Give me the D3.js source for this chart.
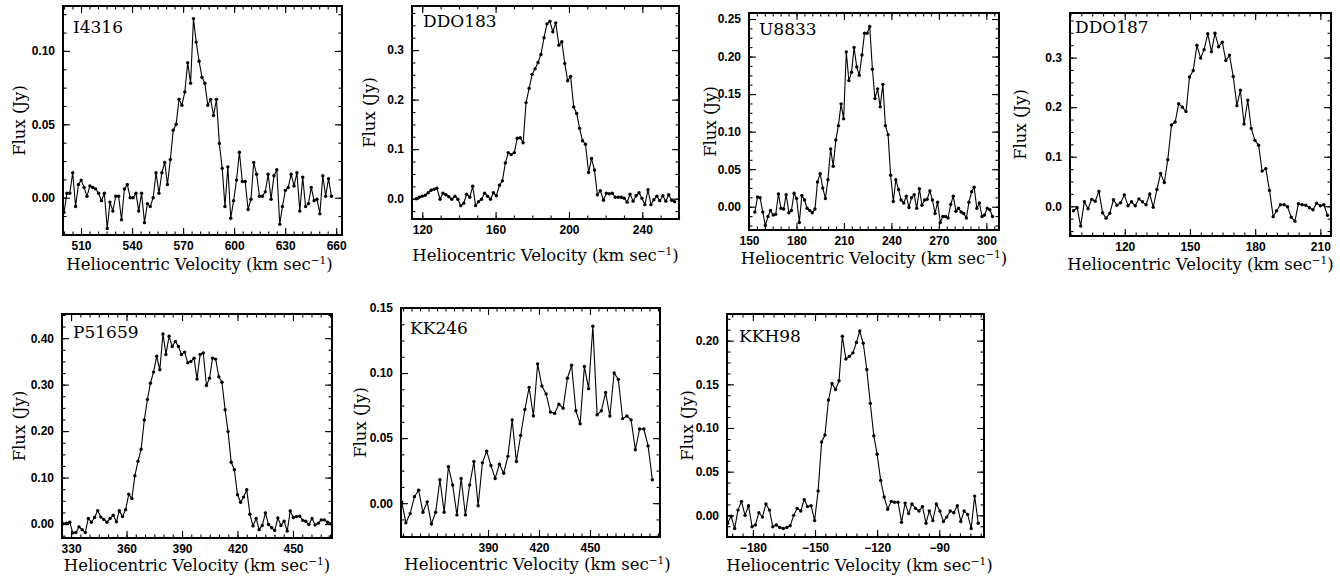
<!DOCTYPE html>
<html lang="en">
<head>
<meta charset="UTF-8">
<title>HI spectra</title>
<style>
body { margin: 0; background: #fff; }
svg { display: block; }
.tick text { font-family: "Liberation Sans", Arial, sans-serif; font-size: 12px; font-weight: bold; fill: #000; }
.tick line { stroke: #000; stroke-width: 1.1px; }
.lbl { font-family: "DejaVu Serif", serif; fill: #000; }
.frame { fill: none; stroke: #000; stroke-width: 2px; }
.spec { fill: none; stroke: #000; stroke-width: 1.1px; }
</style>
</head>
<body>
<svg id="fig" width="1340" height="578"></svg>
<script src="https://d3js.org/d3.v7.min.js"></script>
<script>
// ---------- data (velocity in km/s, flux in Jy) ----------
const i4316Vel = [500.0, 501.7, 503.4, 505.1, 506.8, 508.5, 510.1, 511.8, 513.5, 515.2,
  516.9, 518.6, 520.3, 522.0, 523.7, 525.4, 527.0, 528.7, 530.4, 532.1,
  533.8, 535.5, 537.2, 538.9, 540.6, 542.3, 543.9, 545.6, 547.3, 549.0,
  550.7, 552.4, 554.1, 555.8, 557.5, 559.2, 560.8, 562.5, 564.2, 565.9,
  567.6, 569.3, 571.0, 572.7, 574.4, 576.1, 577.7, 579.4, 581.1, 582.8,
  584.5, 586.2, 587.9, 589.6, 591.3, 593.0, 594.6, 596.3, 598.0, 599.7,
  601.4, 603.1, 604.8, 606.5, 608.2, 609.9, 611.5, 613.2, 614.9, 616.6,
  618.3, 620.0, 621.7, 623.4, 625.1, 626.8, 628.4, 630.1, 631.8, 633.5,
  635.2, 636.9, 638.6, 640.3, 642.0, 643.7, 645.3, 647.0, 648.7, 650.4,
  652.1, 653.8, 655.5, 657.2];
const i4316Flux = [-0.010, 0.003, 0.003, 0.017, -0.006, 0.009, 0.012, 0.007, 0.001, 0.008,
  0.007, 0.006, 0.003, -0.002, 0.003, -0.021, -0.003, -0.009, 0.001, 0.001,
  -0.015, 0.006, 0.009, 0.000, 0.000, 0.003, -0.009, 0.003, -0.017, -0.004,
  -0.006, 0.000, 0.017, 0.003, 0.017, 0.024, 0.009, 0.026, 0.046, 0.050,
  0.067, 0.063, 0.072, 0.092, 0.078, 0.122, 0.106, 0.093, 0.082, 0.078,
  0.063, 0.067, 0.056, 0.067, 0.037, 0.020, -0.006, 0.021, -0.014, -0.002,
  0.012, 0.031, 0.011, 0.011, -0.008, -0.001, 0.024, 0.016, 0.001, 0.001,
  0.004, 0.016, -0.001, 0.015, 0.019, -0.018, -0.006, 0.005, 0.007, 0.016,
  0.008, 0.017, -0.009, 0.014, -0.006, -0.004, 0.007, -0.002, -0.001, -0.011,
  0.015, 0.001, 0.013, 0.001];

const ddo183Vel = [116.7, 118.3, 119.9, 121.6, 123.2, 124.8, 126.4, 128.0, 129.7, 131.3,
  132.9, 134.5, 136.1, 137.8, 139.4, 141.0, 142.6, 144.2, 145.9, 147.5,
  149.1, 150.7, 152.3, 154.0, 155.6, 157.2, 158.8, 160.4, 162.1, 163.7,
  165.3, 166.9, 168.5, 170.2, 171.8, 173.4, 175.0, 176.6, 178.3, 179.9,
  181.5, 183.1, 184.7, 186.4, 188.0, 189.6, 191.2, 192.8, 194.5, 196.1,
  197.7, 199.3, 200.9, 202.6, 204.2, 205.8, 207.4, 209.0, 210.7, 212.3,
  213.9, 215.5, 217.1, 218.8, 220.4, 222.0, 223.6, 225.2, 226.9, 228.5,
  230.1, 231.7, 233.3, 235.0, 236.6, 238.2, 239.8, 241.4, 243.1, 244.7,
  246.3, 247.9, 249.5, 251.2, 252.8, 254.4, 256.0, 257.6];
const ddo183Flux = [0.000, 0.003, 0.005, 0.007, 0.012, 0.017, 0.019, 0.021, -0.001, 0.011,
  0.008, 0.004, -0.001, 0.005, -0.001, -0.014, -0.009, 0.009, 0.003, 0.025,
  -0.014, -0.006, -0.001, 0.011, 0.005, -0.001, 0.012, 0.006, 0.027, 0.036,
  0.072, 0.093, 0.089, 0.093, 0.122, 0.123, 0.113, 0.194, 0.223, 0.251,
  0.262, 0.275, 0.291, 0.325, 0.353, 0.358, 0.337, 0.355, 0.310, 0.317,
  0.273, 0.238, 0.247, 0.185, 0.172, 0.142, 0.117, 0.110, 0.053, 0.081,
  0.058, 0.008, 0.016, -0.003, 0.011, 0.010, 0.011, 0.003, 0.003, 0.003,
  0.001, -0.007, 0.009, -0.005, 0.006, 0.012, 0.001, -0.012, 0.018, -0.012,
  -0.002, 0.005, -0.004, 0.006, -0.005, 0.008, -0.003, -0.006];

const u8833Vel = [153.7, 155.4, 157.0, 158.7, 160.3, 162.0, 163.6, 165.3, 166.9, 168.6,
  170.2, 171.9, 173.5, 175.2, 176.8, 178.5, 180.1, 181.8, 183.4, 185.1,
  186.7, 188.4, 190.0, 191.7, 193.3, 195.0, 196.6, 198.3, 199.9, 201.6,
  203.2, 204.9, 206.5, 208.2, 209.8, 211.5, 213.1, 214.8, 216.4, 218.1,
  219.7, 221.4, 223.0, 224.7, 226.3, 228.0, 229.6, 231.3, 232.9, 234.6,
  236.2, 237.9, 239.5, 241.2, 242.8, 244.5, 246.1, 247.8, 249.4, 251.1,
  252.7, 254.4, 256.0, 257.7, 259.3, 261.0, 262.6, 264.3, 265.9, 267.6,
  269.2, 270.9, 272.5, 274.2, 275.8, 277.5, 279.1, 280.8, 282.4, 284.1,
  285.7, 287.4, 289.0, 290.7, 292.3, 294.0, 295.6, 297.3, 298.9, 300.6,
  302.2, 303.9];
const u8833Flux = [-0.007, 0.013, 0.012, -0.007, -0.025, -0.013, -0.005, -0.011, -0.010, 0.017,
  -0.002, -0.003, 0.016, -0.008, -0.005, 0.018, 0.011, -0.021, 0.015, 0.009,
  -0.002, -0.005, -0.008, -0.003, 0.033, 0.044, 0.025, 0.011, 0.036, 0.077,
  0.054, 0.089, 0.108, 0.137, 0.117, 0.206, 0.168, 0.179, 0.212, 0.186,
  0.175, 0.202, 0.231, 0.231, 0.240, 0.183, 0.144, 0.157, 0.133, 0.163,
  0.108, 0.096, 0.042, 0.007, 0.036, 0.023, 0.009, 0.005, 0.014, -0.001,
  0.012, 0.016, -0.002, 0.024, 0.002, 0.009, 0.010, 0.021, 0.009, -0.009,
  0.006, -0.021, -0.013, -0.013, -0.015, 0.003, 0.014, -0.006, -0.002, -0.007,
  -0.009, -0.015, 0.006, 0.020, 0.026, -0.002, 0.005, -0.013, -0.011, -0.002,
  -0.004, -0.013];

const ddo187Vel = [96.4, 98.1, 99.7, 101.4, 103.1, 104.8, 106.4, 108.1, 109.8, 111.4,
  113.1, 114.8, 116.4, 118.1, 119.8, 121.5, 123.1, 124.8, 126.5, 128.1,
  129.8, 131.5, 133.1, 134.8, 136.5, 138.2, 139.8, 141.5, 143.2, 144.8,
  146.5, 148.2, 149.8, 151.5, 153.2, 154.9, 156.5, 158.2, 159.9, 161.5,
  163.2, 164.9, 166.5, 168.2, 169.9, 171.6, 173.2, 174.9, 176.6, 178.2,
  179.9, 181.6, 183.2, 184.9, 186.6, 188.3, 189.9, 191.6, 193.3, 194.9,
  196.6, 198.3, 199.9, 201.6, 203.3, 205.0, 206.6, 208.3, 210.0, 211.6,
  213.3];
const ddo187Flux = [-0.009, -0.003, -0.040, 0.009, -0.005, 0.014, 0.010, 0.030, -0.013, -0.024,
  -0.014, 0.013, 0.002, 0.007, 0.023, 0.001, 0.009, 0.001, 0.015, 0.009,
  0.003, 0.025, -0.002, 0.034, 0.066, 0.048, 0.094, 0.164, 0.170, 0.207,
  0.200, 0.191, 0.261, 0.274, 0.325, 0.299, 0.316, 0.348, 0.312, 0.349,
  0.322, 0.331, 0.294, 0.305, 0.262, 0.203, 0.234, 0.166, 0.214, 0.157,
  0.133, 0.123, 0.071, 0.076, 0.032, -0.021, -0.009, 0.003, 0.003, -0.001,
  -0.022, -0.030, 0.005, 0.003, 0.002, -0.003, -0.007, 0.006, 0.001, 0.003,
  -0.018];

const p51659Vel = [325.9, 327.6, 329.3, 330.9, 332.6, 334.3, 336.0, 337.7, 339.3, 341.0,
  342.7, 344.4, 346.1, 347.7, 349.4, 351.1, 352.8, 354.5, 356.1, 357.8,
  359.5, 361.2, 362.9, 364.5, 366.2, 367.9, 369.6, 371.3, 372.9, 374.6,
  376.3, 378.0, 379.7, 381.3, 383.0, 384.7, 386.4, 388.1, 389.7, 391.4,
  393.1, 394.8, 396.5, 398.1, 399.8, 401.5, 403.2, 404.9, 406.5, 408.2,
  409.9, 411.6, 413.3, 414.9, 416.6, 418.3, 420.0, 421.7, 423.3, 425.0,
  426.7, 428.4, 430.1, 431.7, 433.4, 435.1, 436.8, 438.5, 440.1, 441.8,
  443.5, 445.2, 446.9, 448.5, 450.2, 451.9, 453.6, 455.3, 456.9, 458.6,
  460.3, 462.0, 463.7, 465.3, 467.0, 468.7, 470.4];
const p51659Flux = [0.001, 0.002, 0.004, -0.019, -0.018, -0.006, -0.012, -0.018, 0.012, 0.004,
  0.014, 0.029, 0.015, 0.010, 0.004, 0.012, 0.019, 0.005, 0.029, 0.016,
  0.031, 0.064, 0.055, 0.104, 0.135, 0.161, 0.224, 0.268, 0.303, 0.327,
  0.361, 0.332, 0.409, 0.365, 0.404, 0.382, 0.393, 0.382, 0.365, 0.370,
  0.347, 0.350, 0.357, 0.312, 0.365, 0.368, 0.298, 0.314, 0.357, 0.355,
  0.317, 0.305, 0.246, 0.199, 0.133, 0.117, 0.063, 0.047, 0.058, 0.074,
  0.021, -0.004, 0.012, -0.012, -0.003, 0.024, -0.001, -0.008, -0.014, 0.013,
  -0.003, 0.006, -0.015, 0.028, 0.014, 0.016, 0.017, 0.008, 0.006, -0.001,
  0.012, -0.002, 0.002, 0.009, 0.009, 0.004, 0.001];

const kk246Vel = [339.2, 341.7, 344.2, 346.7, 349.2, 351.7, 354.2, 356.7, 359.2, 361.7,
  364.2, 366.7, 369.2, 371.7, 374.2, 376.7, 379.2, 381.7, 384.2, 386.7,
  389.2, 391.7, 394.2, 396.7, 399.2, 401.7, 404.2, 406.7, 409.2, 411.7,
  414.2, 416.7, 419.2, 421.7, 424.2, 426.7, 429.2, 431.7, 434.2, 436.7,
  439.2, 441.7, 444.2, 446.7, 449.2, 451.7, 454.2, 456.7, 459.2, 461.7,
  464.2, 466.7, 469.2, 471.7, 474.2, 476.7, 479.2, 481.7, 484.2, 486.7];
const kk246Flux = [0.001, -0.015, -0.008, 0.005, 0.010, -0.007, 0.001, -0.016, -0.007, 0.018,
  -0.007, 0.028, 0.014, -0.009, 0.019, -0.009, 0.014, 0.032, -0.002, 0.031,
  0.040, 0.029, 0.019, 0.030, 0.023, 0.036, 0.064, 0.032, 0.052, 0.072,
  0.089, 0.067, 0.107, 0.090, 0.084, 0.070, 0.069, 0.076, 0.073, 0.096,
  0.106, 0.071, 0.061, 0.105, 0.088, 0.136, 0.068, 0.071, 0.085, 0.067,
  0.100, 0.095, 0.065, 0.067, 0.064, 0.041, 0.057, 0.057, 0.044, 0.018];

const kkh98Vel = [-192.2, -190.5, -188.8, -187.2, -185.5, -183.8, -182.1, -180.4, -178.8, -177.1,
  -175.4, -173.7, -172.0, -170.4, -168.7, -167.0, -165.3, -163.6, -162.0, -160.3,
  -158.6, -156.9, -155.2, -153.6, -151.9, -150.2, -148.5, -146.8, -145.2, -143.5,
  -141.8, -140.1, -138.4, -136.8, -135.1, -133.4, -131.7, -130.0, -128.4, -126.7,
  -125.0, -123.3, -121.6, -120.0, -118.3, -116.6, -114.9, -113.2, -111.6, -109.9,
  -108.2, -106.5, -104.8, -103.2, -101.5, -99.8, -98.1, -96.4, -94.8, -93.1,
  -91.4, -89.7, -88.0, -86.4, -84.7, -83.0, -81.3, -79.6, -78.0, -76.3,
  -74.6, -72.9, -71.2];
const kkh98Flux = [-0.009, -0.001, -0.015, 0.006, 0.016, 0.000, 0.011, -0.013, -0.011, 0.003,
  -0.002, 0.013, 0.006, -0.013, -0.011, -0.014, -0.015, -0.014, -0.012, 0.000,
  0.008, 0.005, 0.018, 0.010, 0.011, -0.006, 0.028, 0.084, 0.092, 0.132,
  0.151, 0.144, 0.154, 0.205, 0.179, 0.182, 0.186, 0.198, 0.211, 0.197,
  0.167, 0.128, 0.091, 0.070, 0.040, 0.021, 0.007, 0.016, 0.015, 0.015,
  -0.008, 0.014, 0.002, 0.013, 0.008, 0.005, 0.010, -0.009, 0.005, -0.006,
  0.013, 0.005, -0.007, -0.002, 0.005, 0.003, 0.011, -0.007, 0.005, 0.001,
  -0.015, 0.022, -0.009];

// tick labels
const i4316XTicks = [510, 540, 570, 600, 630, 660];
const i4316YTicks = [0, 0.05, 0.10];
const ddo183XTicks = [120, 160, 200, 240];
const ddo183YTicks = [0, 0.1, 0.2, 0.3];
const u8833XTicks = [150, 180, 210, 240, 270, 300];
const u8833YTicks = [0, 0.05, 0.10, 0.15, 0.20, 0.25];
const ddo187XTicks = [120, 150, 180, 210];
const ddo187YTicks = [0, 0.1, 0.2, 0.3];
const p51659XTicks = [330, 360, 390, 420, 450];
const p51659YTicks = [0, 0.1, 0.2, 0.3, 0.4];
const kk246XTicks = [390, 420, 450];
const kk246YTicks = [0, 0.05, 0.10, 0.15];
const kkh98XTicks = [-180, -150, -120, -90];
const kkh98YTicks = [0, 0.05, 0.10, 0.15, 0.20];

// panel layout: box = [left, top, right, bottom] in px
const panels = [
  { name: "I4316", vel: i4316Vel, flux: i4316Flux, box: [63, 6, 342, 235],
    xDom: [499.4, 663.4], yDom: [-0.0254, 0.1306], xt: i4316XTicks, yt: i4316YTicks,
    xMin: 5, yMin: 0.0125, yFmt: ".2f", title: [73, 33], ylabX: 19, xlabY: 270, xlabDx: -3 },
  { name: "DDO183", vel: ddo183Vel, flux: ddo183Flux, box: [412, 6, 679, 219],
    xDom: [114.4, 260.0], yDom: [-0.041, 0.389], xt: ddo183XTicks, yt: ddo183YTicks,
    xMin: 10, yMin: 0.025, yFmt: ".1f", title: [423, 27], ylabX: 369, xlabY: 261, xlabDx: 0 },
  { name: "U8833", vel: u8833Vel, flux: u8833Flux, box: [749, 13, 999, 230],
    xDom: [150.0, 308.0], yDom: [-0.031, 0.258], xt: u8833XTicks, yt: u8833YTicks,
    xMin: 5, yMin: 0.0125, yFmt: ".2f", title: [759, 35], ylabX: 710, xlabY: 264, xlabDx: 0 },
  { name: "DDO187", vel: ddo187Vel, flux: ddo187Flux, box: [1070, 13, 1331, 236],
    xDom: [94.8, 214.9], yDom: [-0.060, 0.390], xt: ddo187XTicks, yt: ddo187YTicks,
    xMin: 5, yMin: 0.025, yFmt: ".1f", title: [1075, 33], ylabX: 1020, xlabY: 270, xlabDx: 0 },
  { name: "P51659", vel: p51659Vel, flux: p51659Flux, box: [62, 314, 332, 538],
    xDom: [325.1, 471.1], yDom: [-0.030, 0.452], xt: p51659XTicks, yt: p51659YTicks,
    xMin: 5, yMin: 0.025, yFmt: ".2f", title: [73, 338], ylabX: 19, xlabY: 571, xlabDx: 0 },
  { name: "KK246", vel: kk246Vel, flux: kk246Flux, box: [401, 308, 660, 537],
    xDom: [338.8, 491.2], yDom: [-0.026, 0.150], xt: kk246XTicks, yt: kk246YTicks,
    xMin: 5, yMin: 0.0125, yFmt: ".2f", title: [410, 334], ylabX: 360, xlabY: 570, xlabDx: 7 },
  { name: "KKH98", vel: kkh98Vel, flux: kkh98Flux, box: [727, 314, 984, 537],
    xDom: [-192.5, -68.4], yDom: [-0.0248, 0.2305], xt: kkh98XTicks, yt: kkh98YTicks,
    xMin: 5, yMin: 0.0125, yFmt: ".2f", title: [739, 342], ylabX: 687, xlabY: 571, xlabDx: 4 }
];

const svg = d3.select("#fig");
const MAJ = 7, MIN = 3.5;

// minor tick positions between domain ends
function minorVals(dom, step) {
  const lo = Math.ceil(dom[0] / step - 1e-6), hi = Math.floor(dom[1] / step + 1e-6);
  return d3.range(lo, hi + 1).map(k => k * step);
}

function addAxis(g, axisFn, scale, vals, size, fmt, pad, tr) {
  const ax = axisFn(scale).tickValues(vals).tickSize(-size).tickPadding(pad)
    .tickFormat(fmt ? d3.format(fmt) : "");
  g.append("g").attr("transform", tr).call(ax)
    .call(s => s.select(".domain").remove());
}

panels.forEach((p, idx) => {
  const [x0, y0, x1, y1] = p.box;
  const x = d3.scaleLinear().domain(p.xDom).range([x0, x1]);
  const y = d3.scaleLinear().domain(p.yDom).range([y1, y0]);
  const g = svg.append("g");

  g.append("clipPath").attr("id", "clip" + idx)
    .append("rect").attr("x", x0).attr("y", y0).attr("width", x1 - x0).attr("height", y1 - y0);

  const pts = p.vel.map((v, i) => [v, p.flux[i]]);
  const plot = g.append("g").attr("clip-path", `url(#clip${idx})`);
  plot.append("path").attr("class", "spec")
    .attr("d", d3.line().x(d => x(d[0])).y(d => y(d[1]))(pts));
  plot.selectAll("circle").data(pts).join("circle")
    .attr("cx", d => x(d[0])).attr("cy", d => y(d[1])).attr("r", 1.7).attr("fill", "#000");

  // ticks on all four sides, pointing in
  const xm = minorVals(p.xDom, p.xMin), ym = minorVals(p.yDom, p.yMin);
  addAxis(g, d3.axisBottom, x, xm, MIN, null, 0, `translate(0,${y1})`);
  addAxis(g, d3.axisTop, x, xm, MIN, null, 0, `translate(0,${y0})`);
  addAxis(g, d3.axisLeft, y, ym, MIN, null, 0, `translate(${x0},0)`);
  addAxis(g, d3.axisRight, y, ym, MIN, null, 0, `translate(${x1},0)`);
  addAxis(g, d3.axisBottom, x, p.xt, MAJ, "d", 6, `translate(0,${y1})`);
  addAxis(g, d3.axisTop, x, p.xt, MAJ, null, 0, `translate(0,${y0})`);
  addAxis(g, d3.axisLeft, y, p.yt, MAJ, p.yFmt, 8, `translate(${x0},0)`);
  addAxis(g, d3.axisRight, y, p.yt, MAJ, null, 0, `translate(${x1},0)`);

  g.append("rect").attr("class", "frame")
    .attr("x", x0).attr("y", y0).attr("width", x1 - x0).attr("height", y1 - y0);

  g.append("text").attr("class", "lbl").attr("x", p.title[0]).attr("y", p.title[1])
    .attr("font-size", 17).text(p.name);

  g.append("text").attr("class", "lbl").attr("font-size", 16.5)
    .attr("transform", `translate(${p.ylabX},${(y0 + y1) / 2}) rotate(-90)`)
    .attr("text-anchor", "middle").attr("dy", "0.35em").text("Flux (Jy)");

  const xl = g.append("text").attr("class", "lbl").attr("font-size", 16.5)
    .attr("x", (x0 + x1) / 2 + p.xlabDx).attr("y", p.xlabY).attr("text-anchor", "middle");
  xl.append("tspan").text("Heliocentric Velocity (km sec");
  xl.append("tspan").attr("font-size", 10.5).attr("dy", -6).text("\u22121");
  xl.append("tspan").attr("dy", 6).text(")");
});
</script>
</body>
</html>
